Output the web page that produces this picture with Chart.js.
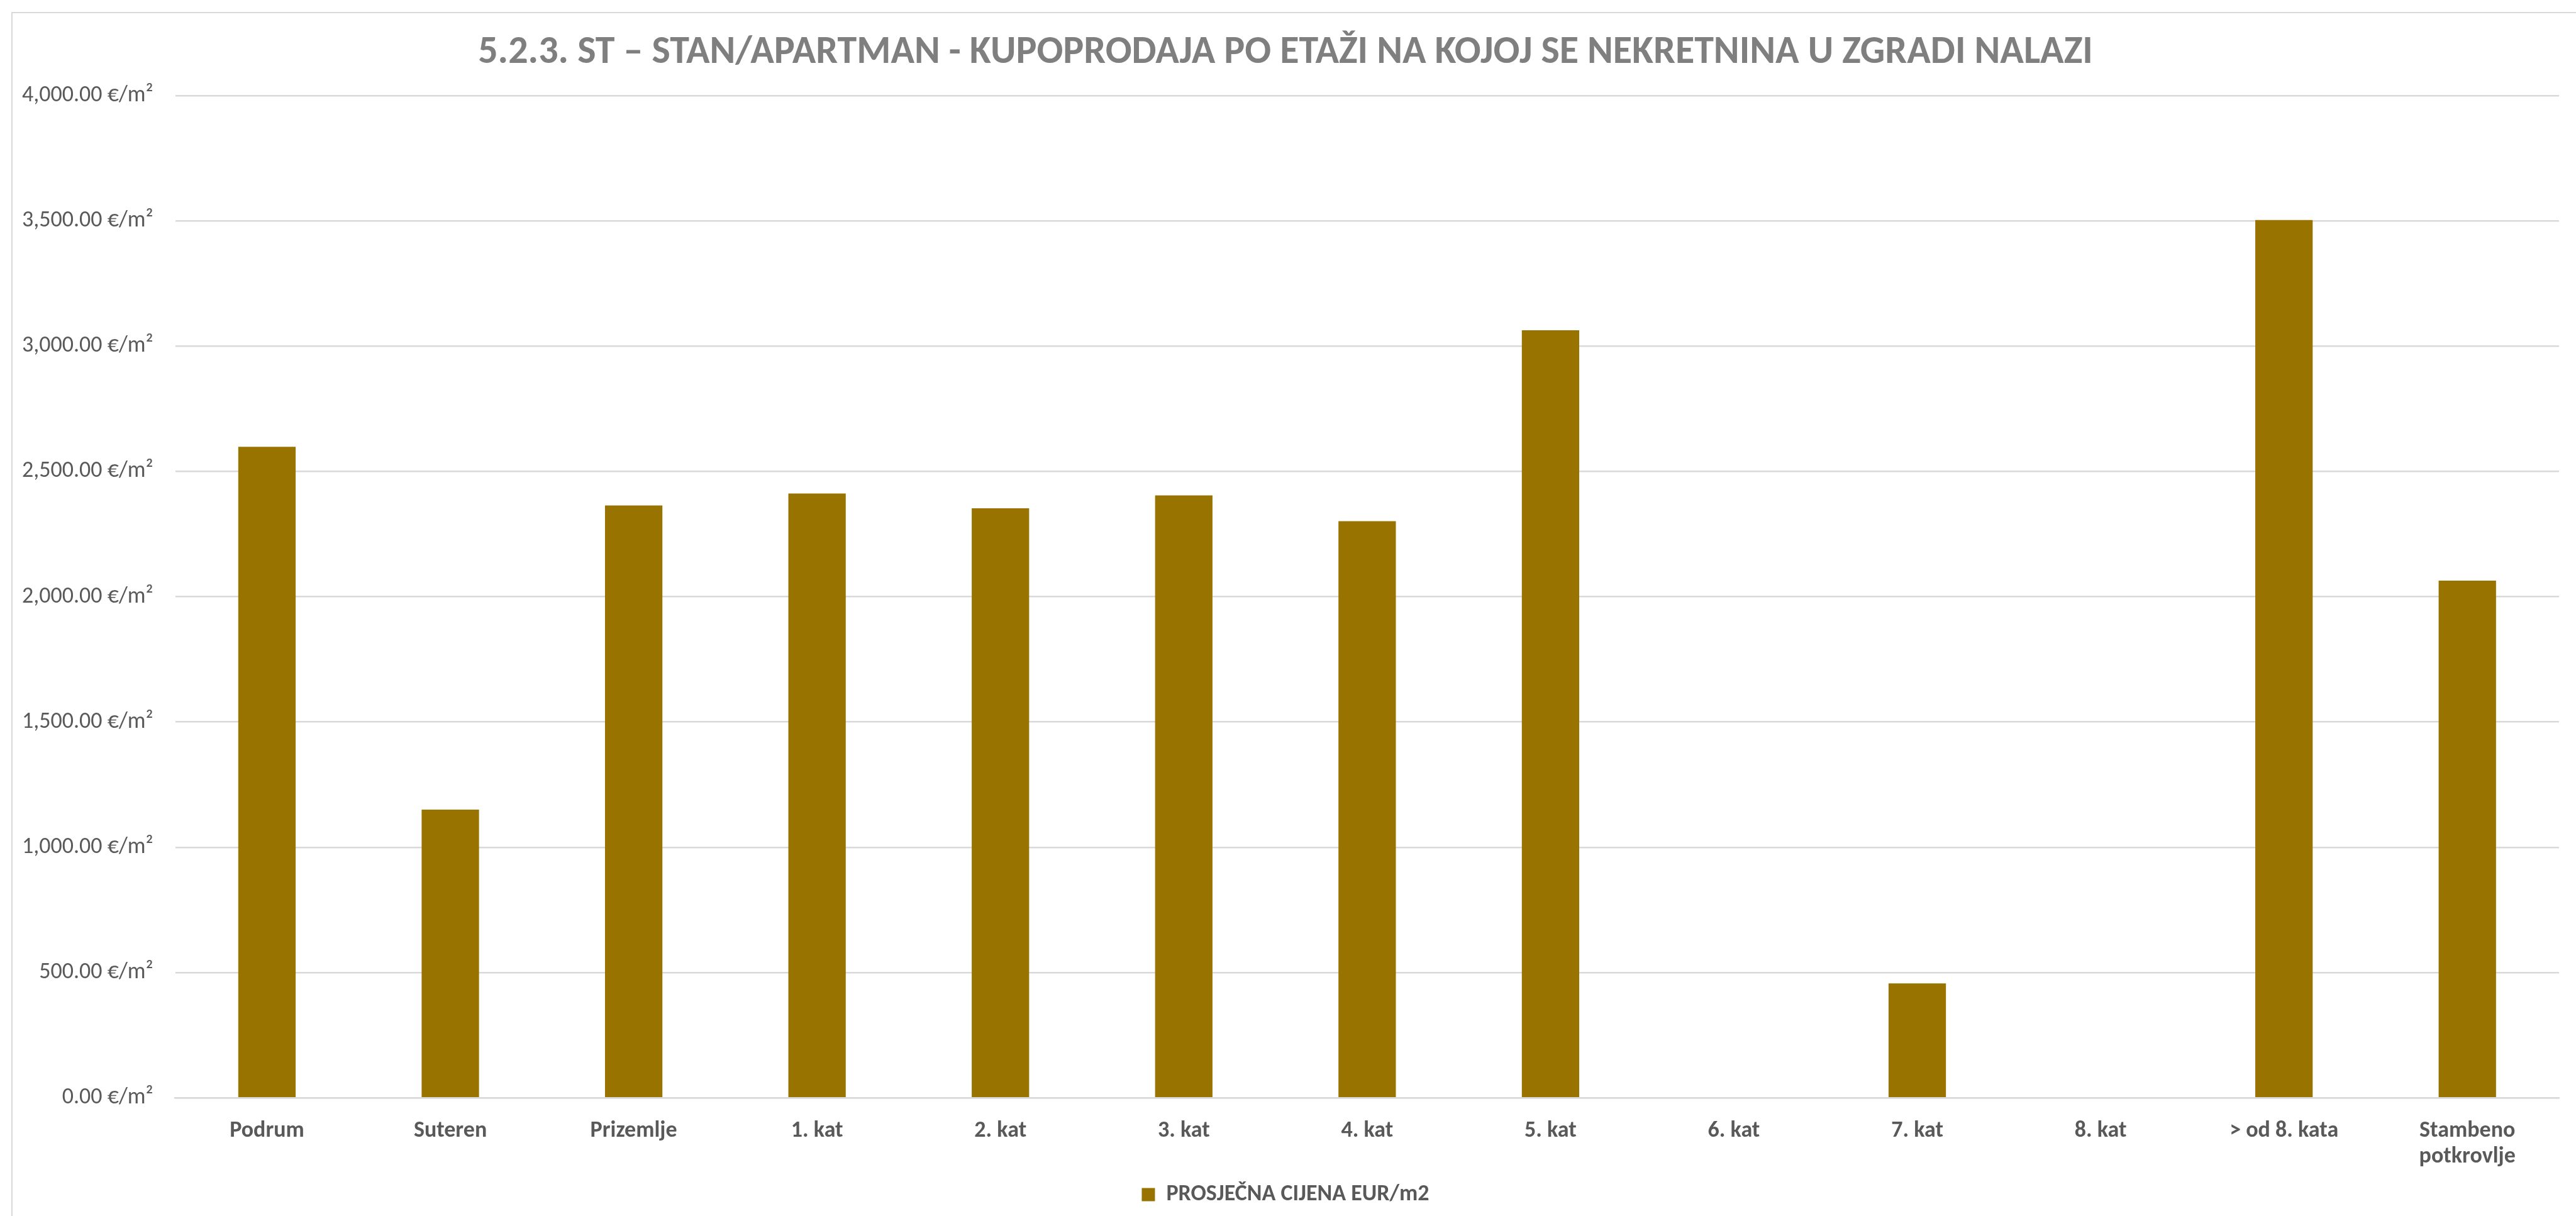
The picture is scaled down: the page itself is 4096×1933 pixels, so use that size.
<!DOCTYPE html>
<html>
<head>
<meta charset="utf-8">
<title>Kupoprodaja po etaži</title>
<script src="https://cdn.jsdelivr.net/npm/chart.js@4.4.1/dist/chart.umd.min.js"></script>
<style>
    html, body { margin: 0; padding: 0; background: #fff; overflow: hidden; }
    #wrap { position: relative; width: 4096px; height: 1933px; }
    #frame {
        position: absolute; left: 18px; top: 19px; width: 5000px; height: 5000px;
        border-left: 2px solid #d9d9d9; border-top: 2px solid #d9d9d9;
    }
    #salesChart { position: absolute; left: 0; top: 0; }
</style>
</head>
<body>
<div id="wrap">
    <div id="frame"></div>
    <canvas id="salesChart" width="4096" height="1933"></canvas>
</div>
<script>
// DATA
let categories = ["Podrum", "Suteren", "Prizemlje", "1. kat", "2. kat", "3. kat", "4. kat",
    "5. kat", "6. kat", "7. kat", "8. kat", "> od 8. kata", ["Stambeno", "potkrovlje"]];
let prices = [2598, 1150, 2364, 2412, 2353, 2404, 2301, 3063, null, 457, null, 3503, 2064];
let seriesName = "PROSJEČNA CIJENA EUR/m2";
let chartTitle = "5.2.3. ST – STAN/APARTMAN - KUPOPRODAJA PO ETAŽI NA KOJOJ SE NEKRETNINA U ZGRADI NALAZI";
let yMin = 0;
let yMax = 4000;
let yStep = 500;
let yUnit = " €/m²";

function formatPrice(v) {
    return Number(v).toLocaleString("en-US", { minimumFractionDigits: 2, maximumFractionDigits: 2 }) + yUnit;
}

// CHART
function loadChart() {
    let ctx = document.getElementById("salesChart");
    let font = "Carlito, Calibri, Lato, sans-serif";

    new Chart(ctx, {
        type: "bar",
        data: {
            labels: categories,
            datasets: [
                {
                    label: seriesName,
                    data: prices,
                    backgroundColor: "#997300",
                    borderWidth: 0,
                    categoryPercentage: 1,
                    barPercentage: 0.313
                }
            ]
        },
        options: {
            responsive: false,
            animation: false,
            devicePixelRatio: 1,
            layout: { padding: { left: 19, right: 27, top: 0, bottom: 6 } },
            plugins: {
                title: {
                    display: true,
                    text: chartTitle,
                    color: "#7f7f7f",
                    font: { family: font, size: 62, weight: "bold", lineHeight: 1.2 },
                    padding: { top: 47, bottom: 30.4 }
                },
                legend: {
                    position: "bottom",
                    labels: {
                        color: "#595959",
                        font: { family: font, size: 36, weight: "bold" },
                        boxWidth: 21,
                        boxHeight: 21,
                        padding: 10
                    }
                },
                tooltip: { enabled: false }
            },
            scales: {
                x: {
                    grid: { display: false },
                    border: { display: true, color: "#d9d9d9", width: 2.5 },
                    ticks: {
                        color: "#595959",
                        font: { family: font, size: 36, weight: "bold", lineHeight: 1.15 },
                        padding: 24,
                        maxRotation: 0,
                        autoSkip: false
                    },
                    afterFit: function (scale) { scale.height = 125.8; }
                },
                y: {
                    min: yMin,
                    max: yMax,
                    grid: { color: "#d9d9d9", lineWidth: 2.5, drawTicks: false },
                    border: { display: false },
                    ticks: {
                        stepSize: yStep,
                        color: "#595959",
                        font: { family: font, size: 36 },
                        padding: 35,
                        callback: formatPrice
                    },
                    afterFit: function (scale) { scale.width = 259.7; }
                }
            }
        }
    });
}

window.onload = loadChart;
</script>
</body>
</html>
